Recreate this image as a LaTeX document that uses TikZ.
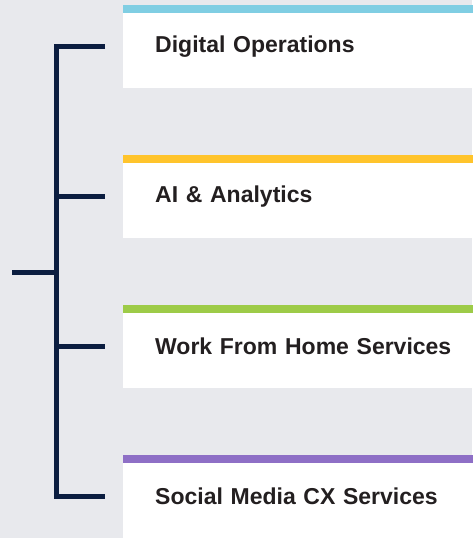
\documentclass[tikz,border=0pt]{standalone}
\usepackage{fontspec}
\setmainfont{Liberation Sans}
\usepackage{tikz}
\usetikzlibrary{positioning, calc}
\definecolor{svbg}{HTML}{E8E9ED}
\definecolor{svnavy}{HTML}{0B1D40}
\definecolor{svtext}{HTML}{231F20}
\definecolor{svcyan}{HTML}{80CEE3}
\definecolor{svyellow}{HTML}{FFC42C}
\definecolor{svgreen}{HTML}{9DCB48}
\definecolor{svpurple}{HTML}{8E6FC6}

\begin{document}
\begin{tikzpicture}[
    x=1pt, y=-1pt,
    svbox/.style={rectangle, fill=white, anchor=north west,
                  minimum width=349pt, minimum height=83pt,
                  text width=310pt, inner xsep=32pt, inner ysep=0pt, align=left,
                  text=svtext, font=\fontsize{23}{27}\selectfont\bfseries,
                  path picture={\fill[#1] (path picture bounding box.north west)
                      rectangle ([yshift=-8pt]path picture bounding box.north east);}},
    bracket/.style={draw=svnavy, line width=5pt, line cap=butt, line join=miter}
]
\fill[svbg] (0,0) rectangle (472,538);
\useasboundingbox (0,0) rectangle (472,538);

\node[svbox=svcyan]   (ops)  at (123,5)   {Digital Operations};
\node[svbox=svyellow] (ai)   at (123,155) {AI \& Analytics};
\node[svbox=svgreen]  (wfh)  at (123,305) {Work From Home Services};
\node[svbox=svpurple] (smcx) at (123,455) {Social Media CX Services};

\coordinate (hub)  at (56.5,272);
\coordinate (root) at (12,272);

% bracket joining the four services
\draw[bracket] ([xshift=-18pt]ops.west) -- (hub |- ops.west)
    -- (hub |- smcx.west) -- ([xshift=-18pt]smcx.west);
\draw[bracket] (hub |- ai.west)  -- ([xshift=-18pt]ai.west);
\draw[bracket] (hub |- wfh.west) -- ([xshift=-18pt]wfh.west);
\draw[bracket] (root) -- (hub);
\end{tikzpicture}
\end{document}
